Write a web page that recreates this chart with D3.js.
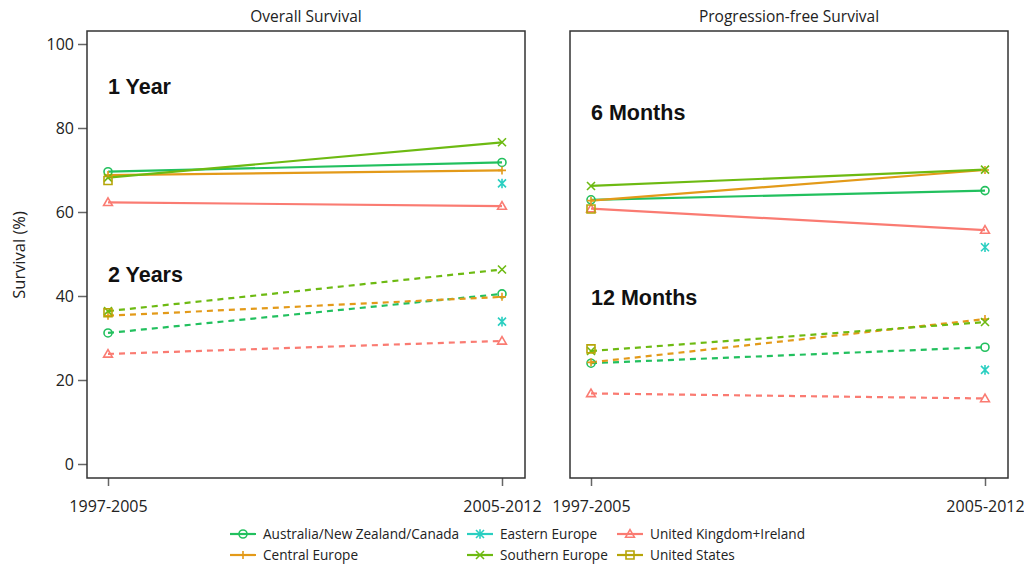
<!DOCTYPE html>
<html>
<head>
<meta charset="utf-8">
<script src="https://cdn.jsdelivr.net/npm/d3@7/dist/d3.min.js"></script>
<style>
  html, body { margin: 0; padding: 0; background: #fff; }
  svg { display: block; font-family: "Open Sans", "Noto Sans", sans-serif; }
</style>
</head>
<body>
<svg id="chart" width="1024" height="564"></svg>
<script>
// Regions, in legend order
const regions = [
  "Australia/New Zealand/Canada",
  "Central Europe",
  "Eastern Europe",
  "Southern Europe",
  "United Kingdom+Ireland",
  "United States"
];
const regionColors = ["#22C05E", "#E39A19", "#2ACFC1", "#6DBA12", "#FA7B72", "#B6A509"];
const regionShapes = ["circle", "plus", "asterisk", "cross", "triangle", "square"];

// Diagnosis periods on the x axis
const periods = ["1997-2005", "2005-2012"];

// Survival (%) per region: [1997-2005, 2005-2012]; null = no estimate
const os1Year = [[69.6, 71.8], [68.8, 69.9], [null, 66.8], [68.2, 76.6], [62.3, 61.4], [67.5, null]];
const os2Years = [[31.2, 40.5], [35.3, 39.8], [null, 33.9], [36.4, 46.3], [26.2, 29.3], [36.0, null]];
const pfs6Months = [[62.9, 65.1], [62.7, 70.0], [null, 51.6], [66.2, 70.1], [60.8, 55.7], [60.7, null]];
const pfs12Months = [[24.0, 27.8], [24.2, 34.5], [null, 22.4], [26.9, 33.8], [16.8, 15.6], [27.4, null]];

const yTicks = [0, 20, 40, 60, 80, 100];

const panels = [
  { title: "Overall Survival", left: 87, right: 525, yAxis: true,
    groups: [
      { label: "1 Year", data: os1Year, dashed: false, labelY: 94 },
      { label: "2 Years", data: os2Years, dashed: true, labelY: 282 }
    ] },
  { title: "Progression-free Survival", left: 570, right: 1008, yAxis: false,
    groups: [
      { label: "6 Months", data: pfs6Months, dashed: false, labelY: 120 },
      { label: "12 Months", data: pfs12Months, dashed: true, labelY: 305 }
    ] }
];

const svg = d3.select("#chart");
const plotTop = 31, plotBottom = 478;
const y = d3.scaleLinear().domain([0, 100]).range([464, 44]);

function symbolPath(shape, s) {
  const h = s / 2;
  switch (shape) {
    case "circle": return d3.symbol().type(d3.symbolCircle).size(Math.PI * h * h)();
    case "square": return `M${-h},${-h}H${h}V${h}H${-h}Z`;
    case "triangle": return `M0,${-h * 1.1}L${h * 1.1},${h * 0.8}L${-h * 1.1},${h * 0.8}Z`;
    case "plus": return `M${-h},0H${h}M0,${-h}V${h}`;
    case "cross": return `M${-h},${-h}L${h},${h}M${-h},${h}L${h},${-h}`;
    case "asterisk": return `M${-h},${-h}L${h},${h}M${-h},${h}L${h},${-h}M0,${-h * 1.2}V${h * 1.2}`;
  }
}

function drawMarker(g, shape, color, cx, cy) {
  g.append("path")
    .attr("d", symbolPath(shape, 8))
    .attr("transform", `translate(${cx},${cy})`)
    .attr("fill", "none")
    .attr("stroke", color)
    .attr("stroke-width", 1.6);
}

panels.forEach(p => {
  const x = d3.scalePoint().domain(periods).range([p.left + 21, p.right - 23]);
  const g = svg.append("g");

  // panel title
  g.append("text")
    .attr("x", (p.left + p.right) / 2).attr("y", 22)
    .attr("text-anchor", "middle")
    .attr("font-size", 15.5).attr("fill", "#222")
    .text(p.title);

  // x axis
  const xAxis = g.append("g")
    .attr("transform", `translate(0,${plotBottom})`)
    .call(d3.axisBottom(x).tickSize(8).tickSizeOuter(0));
  xAxis.select(".domain").remove();
  xAxis.selectAll(".tick line").attr("stroke", "#666").attr("stroke-width", 1.5);
  xAxis.selectAll(".tick text")
    .attr("font-size", 16).attr("fill", "#222").attr("dy", "1.45em")
    .style("font-family", "\"Open Sans\", sans-serif");

  if (p.yAxis) {
    const yAxis = g.append("g")
      .attr("transform", `translate(${p.left},0)`)
      .call(d3.axisLeft(y).tickValues(yTicks).tickSize(9).tickPadding(4));
    yAxis.select(".domain").remove();
    yAxis.selectAll(".tick line").attr("stroke", "#666").attr("stroke-width", 1.5);
    yAxis.selectAll(".tick text")
      .attr("font-size", 16).attr("fill", "#222")
      .style("font-family", "\"Open Sans\", sans-serif");
  }

  // group labels
  p.groups.forEach(grp => {
    g.append("text")
      .attr("x", x(periods[0])).attr("y", grp.labelY)
      .attr("font-size", 21.5).attr("font-weight", "bold").attr("fill", "#111")
      .style("font-family", "\"Liberation Sans\", Arial, sans-serif")
      .text(grp.label);
  });

  // lines and markers
  p.groups.forEach(grp => {
    grp.data.forEach((vals, i) => {
      const pts = vals.map((v, j) => v == null ? null : [x(periods[j]), y(v)]);
      if (pts[0] && pts[1]) {
        g.append("path")
          .attr("d", d3.line()(pts))
          .attr("fill", "none")
          .attr("stroke", regionColors[i])
          .attr("stroke-width", 2.2)
          .attr("stroke-dasharray", grp.dashed ? "6,5" : null);
      }
    });
    grp.data.forEach((vals, i) => {
      vals.forEach((v, j) => {
        if (v != null) drawMarker(g, regionShapes[i], regionColors[i], x(periods[j]), y(v));
      });
    });
  });

  // panel frame
  g.append("rect")
    .attr("x", p.left).attr("y", plotTop)
    .attr("width", p.right - p.left).attr("height", plotBottom - plotTop)
    .attr("fill", "none").attr("stroke", "#333").attr("stroke-width", 1.5);
});

// y axis title
svg.append("text")
  .attr("transform", "translate(25,255) rotate(-90)")
  .attr("text-anchor", "middle")
  .attr("font-size", 16.5).attr("fill", "#222")
  .text("Survival (%)");

// legend
const legendCols = [230, 467, 617];
const legendRows = [534, 555];
regions.forEach((r, i) => {
  const lx = legendCols[Math.floor(i / 2)];
  const ly = legendRows[i % 2];
  const lg = svg.append("g");
  lg.append("line")
    .attr("x1", lx).attr("x2", lx + 26).attr("y1", ly).attr("y2", ly)
    .attr("stroke", regionColors[i]).attr("stroke-width", 2.2);
  drawMarker(lg, regionShapes[i], regionColors[i], lx + 13, ly);
  lg.append("text")
    .attr("x", lx + 33).attr("y", ly).attr("dy", "0.35em")
    .attr("font-size", 13.6).attr("fill", "#222")
    .text(r);
});
</script>
</body>
</html>
